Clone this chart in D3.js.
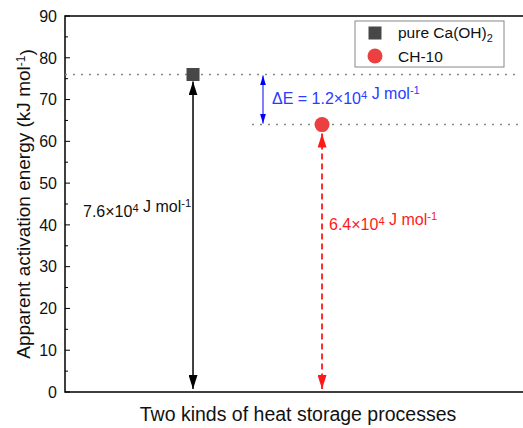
<!DOCTYPE html>
<html>
<head>
<meta charset="utf-8">
<script src="https://cdn.jsdelivr.net/npm/d3@7"></script>
<style>
  body { margin: 0; background: #fff; }
  text { font-family: Arial, "Liberation Sans", sans-serif; }
</style>
</head>
<body>
<div id="chart"></div>
<script>
// data
var samples = ["pure Ca(OH)2", "CH-10"];
var energies = [76, 64];            // kJ/mol
var yTicks = [0, 10, 20, 30, 40, 50, 60, 70, 80, 90];
var markerColors = ["#474747", "#ec4040"];

var W = 523, H = 428;
var margin = {top: 16, left: 65, bottom: 36, right: 0};

var svg = d3.select("#chart").append("svg")
  .attr("width", W)
  .attr("height", H);

var xScale = d3.scaleLinear()
  .domain([0, 3.55])
  .range([64, 522]);

var yScale = d3.scaleLinear()
  .domain([0, 90])
  .range([H - margin.bottom, margin.top]);

// arrow markers
var defs = svg.append("defs");
function addHead(id, colour, w, l) {
  defs.append("marker")
    .attr("id", id)
    .attr("viewBox", "0 0 " + l + " " + w)
    .attr("refX", l)
    .attr("refY", w / 2)
    .attr("markerWidth", l)
    .attr("markerHeight", w)
    .attr("markerUnits", "userSpaceOnUse")
    .attr("orient", "auto-start-reverse")
    .append("path")
    .attr("d", "M0,0 L" + l + "," + (w / 2) + " L0," + w + " Z")
    .attr("fill", colour);
}
addHead("headK", "#000", 9, 14);
addHead("headR", "#ff1a1a", 9, 14);
addHead("headB", "#0000ff", 6, 10);

// frame: left, bottom, top
var x0 = margin.left, x1 = W, yTop = yScale(90), yBot = yScale(0);
svg.append("path")
  .attr("d", "M" + x1 + "," + yTop + " H" + x0 + " V" + yBot + " H" + x1)
  .attr("fill", "none")
  .attr("stroke", "#000")
  .attr("stroke-width", 1.5);

// y ticks (inward), minor ticks every 5
d3.range(0, 91, 5).forEach(function(v) {
  var major = v % 10 === 0;
  svg.append("line")
    .attr("x1", x0).attr("x2", x0 + (major ? 5 : 3))
    .attr("y1", yScale(v)).attr("y2", yScale(v))
    .attr("stroke", "#000").attr("stroke-width", 1);
});
svg.selectAll("text.ytick")
  .data(yTicks)
  .enter().append("text")
  .attr("class", "ytick")
  .attr("x", x0 - 8)
  .attr("y", function(d) { return yScale(d); })
  .attr("dy", "0.36em")
  .attr("text-anchor", "end")
  .style("font-size", "16px")
  .attr("fill", "#111")
  .text(function(d) { return d; });

// axis titles
var ylab = svg.append("text")
  .attr("transform", "translate(30," + ((yTop + yBot) / 2) + ") rotate(-90)")
  .attr("text-anchor", "middle")
  .style("font-size", "19px")
  .attr("fill", "#111");
ylab.append("tspan").text("Apparent activation energy (kJ mol");
ylab.append("tspan").attr("dy", "-0.45em").style("font-size", "12px").text("-1");
ylab.append("tspan").attr("dy", "0.45em").text(")");

svg.append("text")
  .attr("x", 298)
  .attr("y", 421)
  .attr("text-anchor", "middle")
  .style("font-size", "19.5px")
  .attr("fill", "#111")
  .text("Two kinds of heat storage processes");

// dotted reference lines
svg.append("line")
  .attr("x1", x0).attr("x2", 520)
  .attr("y1", yScale(energies[0])).attr("y2", yScale(energies[0]))
  .attr("stroke", "#888").attr("stroke-width", 1.5)
  .attr("stroke-dasharray", "2,6");
svg.append("line")
  .attr("x1", 252).attr("x2", 520)
  .attr("y1", yScale(energies[1])).attr("y2", yScale(energies[1]))
  .attr("stroke", "#888").attr("stroke-width", 1.5)
  .attr("stroke-dasharray", "2,6");

// vertical arrows from each point to zero
svg.append("line")
  .attr("x1", xScale(1)).attr("x2", xScale(1))
  .attr("y1", yScale(energies[0]) + 7).attr("y2", yScale(0) - 3)
  .attr("stroke", "#000").attr("stroke-width", 1.5)
  .attr("marker-start", "url(#headK)")
  .attr("marker-end", "url(#headK)");
svg.append("line")
  .attr("x1", xScale(2)).attr("x2", xScale(2))
  .attr("y1", yScale(energies[1]) + 9).attr("y2", yScale(0) - 3)
  .attr("stroke", "#ff1a1a").attr("stroke-width", 1.8)
  .attr("stroke-dasharray", "6,4")
  .attr("marker-start", "url(#headR)")
  .attr("marker-end", "url(#headR)");

// delta-E arrow
svg.append("line")
  .attr("x1", 263).attr("x2", 263)
  .attr("y1", yScale(energies[0]) + 1).attr("y2", yScale(energies[1]) - 1)
  .attr("stroke", "#0000ff").attr("stroke-width", 1)
  .attr("marker-start", "url(#headB)")
  .attr("marker-end", "url(#headB)");

// markers
svg.append("rect")
  .attr("x", xScale(1) - 6.5).attr("y", yScale(energies[0]) - 6.5)
  .attr("width", 13).attr("height", 13)
  .attr("fill", markerColors[0]);
svg.append("circle")
  .attr("cx", xScale(2)).attr("cy", yScale(energies[1]))
  .attr("r", 7.5)
  .attr("fill", markerColors[1]);

// annotations with superscripts
function label(x, y, colour, parts, size) {
  size = size || 16;
  var t = svg.append("text")
    .attr("x", x).attr("y", y)
    .attr("fill", colour)
    .style("font-size", size + "px");
  parts.forEach(function(p) {
    if (p[1] === "sup") {
      t.append("tspan").attr("dy", "-0.45em").style("font-size", (size * 0.7) + "px").text(p[0]);
      t.append("tspan").attr("dy", "0.45em").text("");
    } else if (p[1] === "sub") {
      t.append("tspan").attr("dy", "0.35em").style("font-size", (size * 0.7) + "px").text(p[0]);
      t.append("tspan").attr("dy", "-0.35em").text("");
    } else {
      t.append("tspan").text(p[0]);
    }
  });
  return t;
}
label(83, 217, "#111", [["7.6×10"], ["4", "sup"], [" J mol"], ["-1", "sup"]]);
label(329, 230, "#ff1a1a", [["6.4×10"], ["4", "sup"], [" J mol"], ["-1", "sup"]]);
label(272, 104, "#2a3cff", [["ΔE = 1.2×10"], ["4", "sup"], [" J mol"], ["-1", "sup"]]);

// legend
svg.append("rect")
  .attr("x", 355).attr("y", 21)
  .attr("width", 149).attr("height", 46)
  .attr("fill", "#fff")
  .attr("stroke", "#888").attr("stroke-width", 1);
svg.append("rect")
  .attr("x", 375 - 6.5).attr("y", 33 - 6.5)
  .attr("width", 13).attr("height", 13)
  .attr("fill", markerColors[0]);
svg.append("circle")
  .attr("cx", 375).attr("cy", 56).attr("r", 7.5)
  .attr("fill", markerColors[1]);
label(398, 38, "#111", [["pure Ca(OH)"], ["2", "sub"]], 15.5);
label(398, 62, "#111", [[samples[1]]], 15.5);
</script>
</body>
</html>
